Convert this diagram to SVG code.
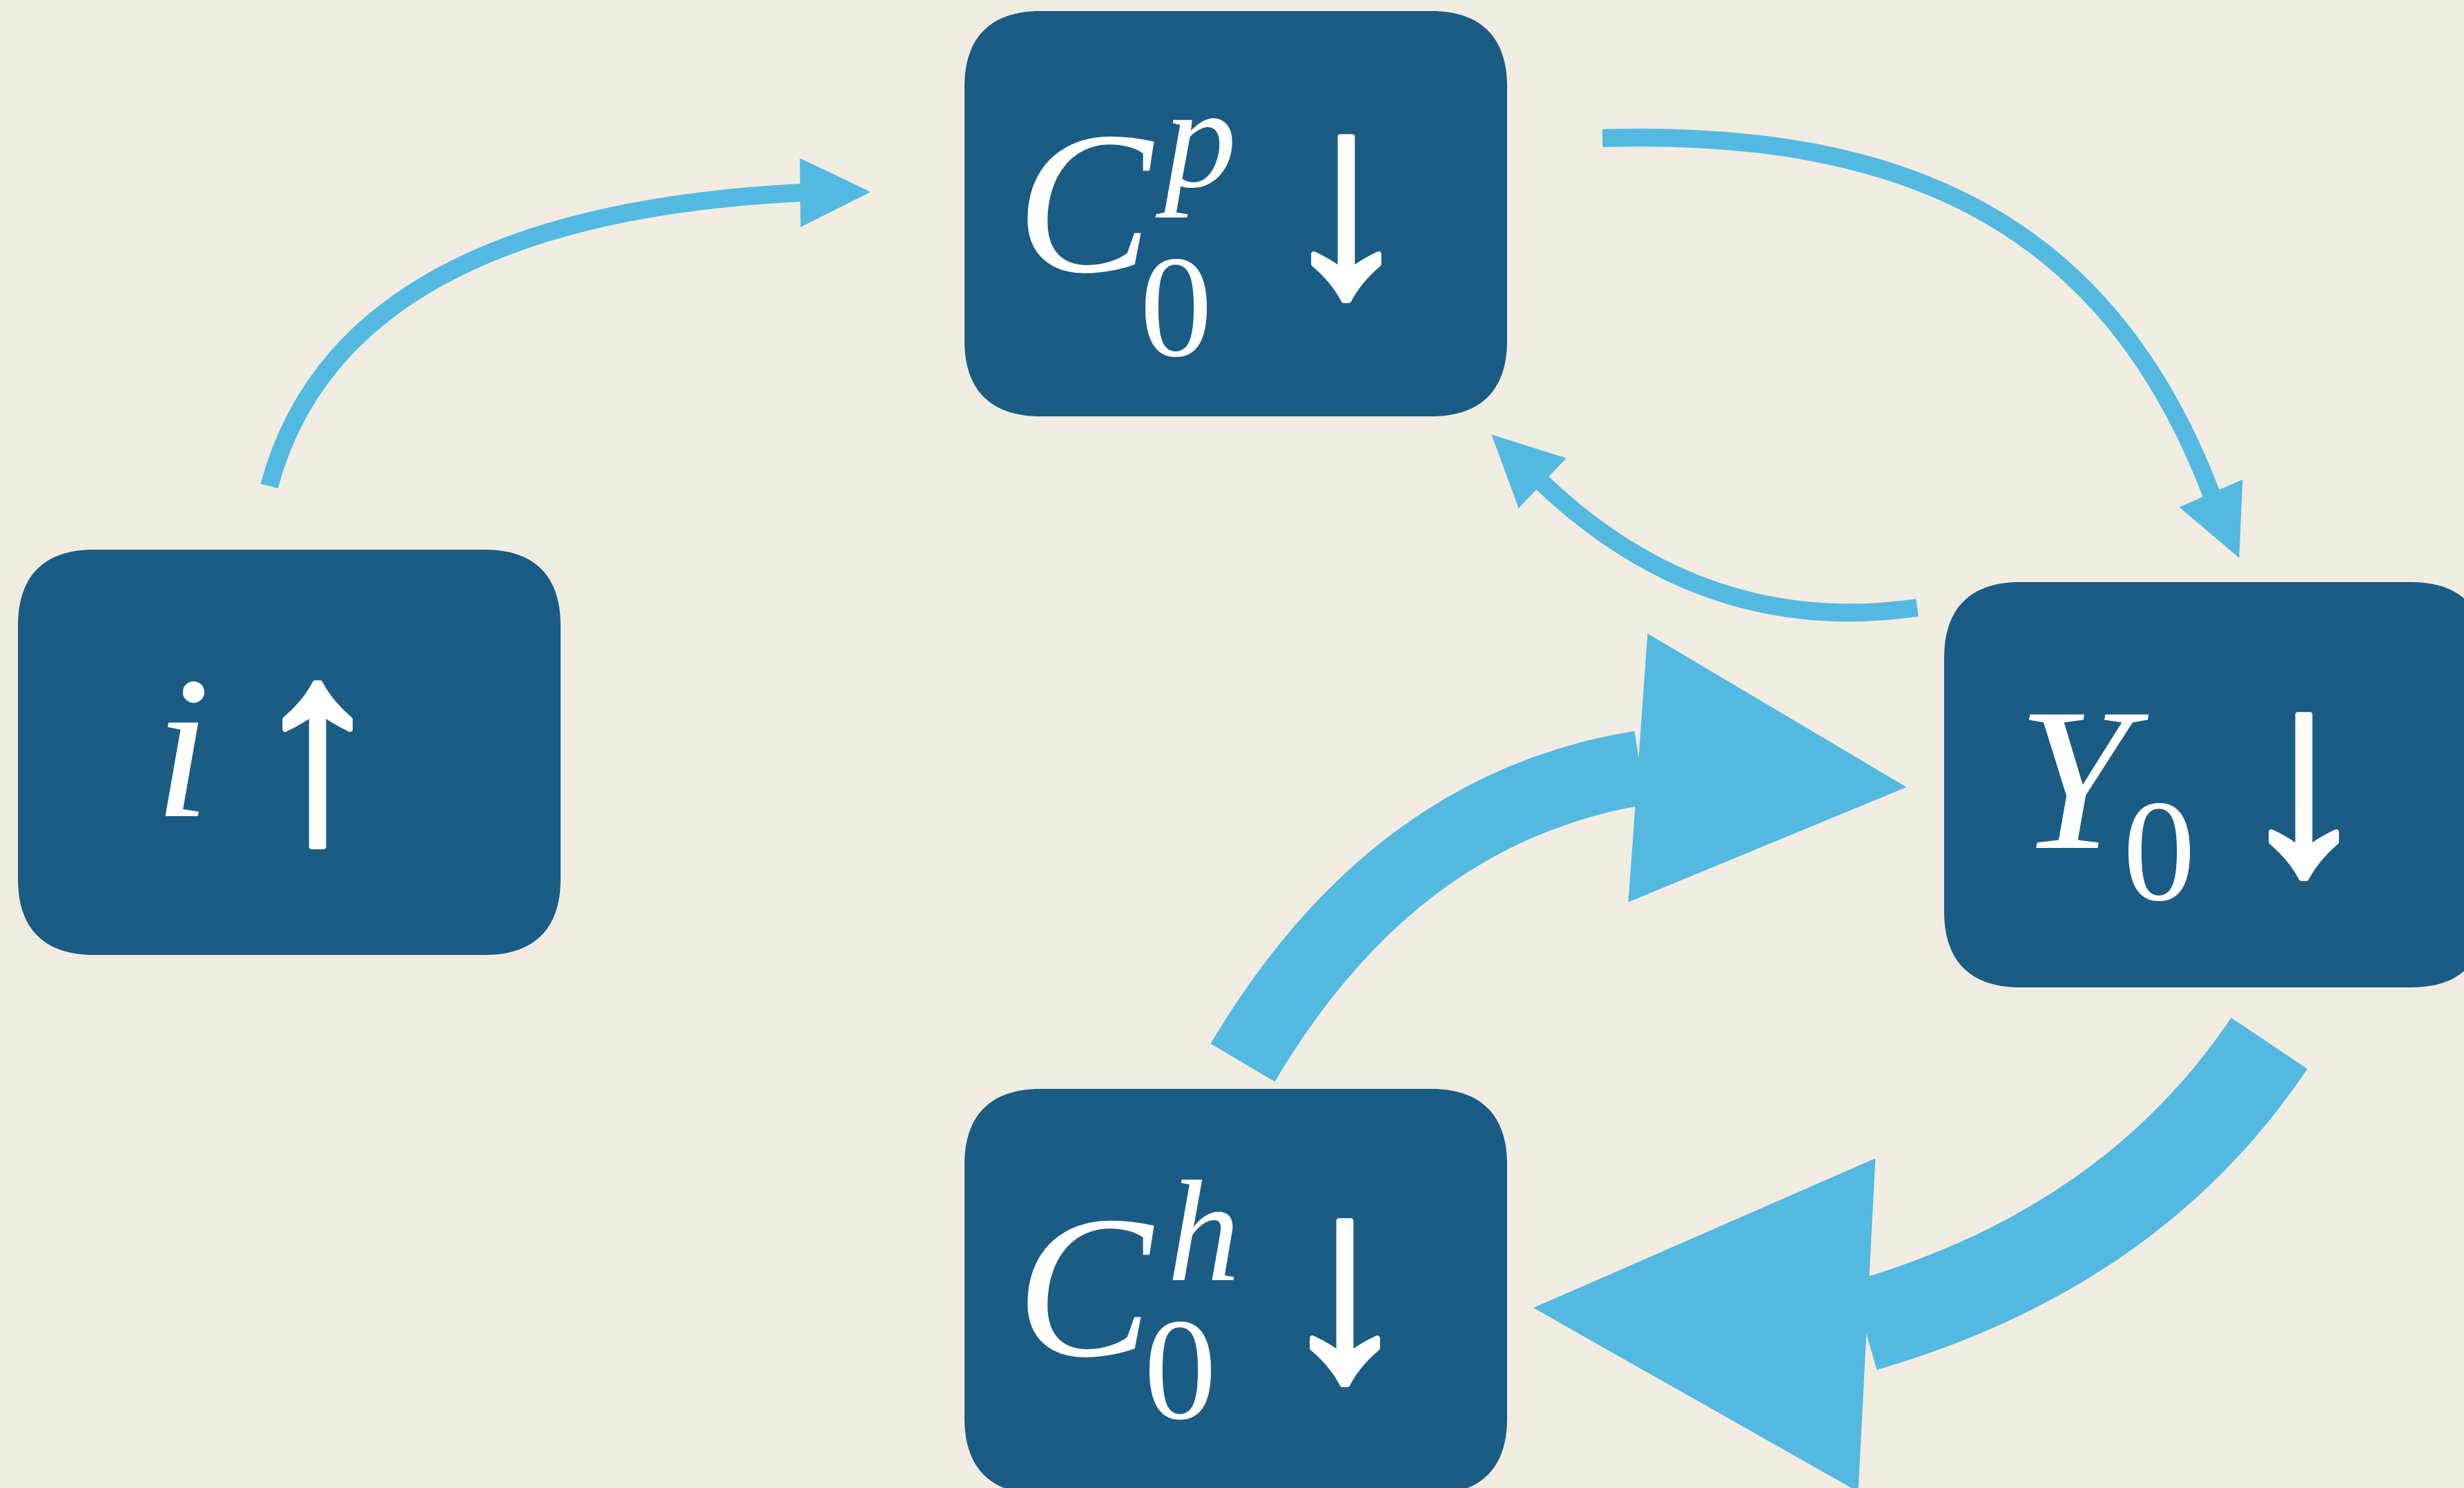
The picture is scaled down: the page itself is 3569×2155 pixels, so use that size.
<svg xmlns="http://www.w3.org/2000/svg" xmlns:xlink="http://www.w3.org/1999/xlink" width="3569" height="2155" viewBox="0 0 3569 2155">
<style>
.box{fill:#1b5c85;}
.lbl{fill:#ffffff;font-family:"Liberation Serif","Times New Roman",serif;font-style:italic;}
.num{fill:#ffffff;font-family:"Liberation Serif","Times New Roman",serif;font-style:normal;}
.arr{fill:#ffffff;stroke:#ffffff;stroke-width:8;stroke-linejoin:round;font-family:"Liberation Serif","DejaVu Serif",serif;font-style:normal;font-size:400px;}
.big{font-size:295px;}
.small{font-size:210px;}
.edge{fill:none;stroke:#54b9e0;stroke-linecap:butt;}
.thin{stroke-width:26;}
.head{fill:#54b9e0;}
</style>
<defs>
<path id="nodeShape" d="M110,0 H676 C748,0 786,38 786,110 V477 C786,549 748,587 676,587 H110 C38,587 0,549 0,477 V110 C0,38 38,0 110,0 Z"/>
<path id="headThin" d="M0,-50 L102,0 L0,50 Z"/>
<path id="headThick" d="M0,-195 L390,0 L0,195 Z"/>
</defs>
<rect x="0" y="0" width="3569" height="2155" fill="#f0ece2"/>
<g id="connectors">
<path class="edge thin" d="M390,704 C460,442.7 716.3,301 1161,279"/>
<use xlink:href="#headThin" class="head" transform="translate(1159,279) rotate(-0.6)"/>
<path class="edge thin" d="M2321,200 C2770,187 3056,330 3203.5,716.5"/>
<use xlink:href="#headThin" class="head" transform="translate(3202.5,714.5) rotate(66.4)"/>
<path class="edge thin" d="M2777,880 C2572.5,909.5 2391.5,849.4 2233,698.5"/>
<use xlink:href="#headThin" class="head" transform="translate(2234.2,699.7) rotate(-136.4)"/>
<path class="edge" stroke-width="108" d="M1800,1539 C1946,1293 2136.7,1150.7 2376,1112"/>
<use xlink:href="#headThick" class="head" transform="translate(2372.5,1112) rotate(4.1)"/>
<path class="edge" stroke-width="133" d="M3287,1511 C3153.8,1709.1 2959.5,1844.9 2700,1920"/>
<use xlink:href="#headThick" class="head" transform="translate(2704,1919) rotate(182.95) scale(1.24)"/>
</g>
<g id="node-i">
<use xlink:href="#nodeShape" class="box" x="26" y="796"/>
<text class="lbl big" x="264" y="1182" text-anchor="middle">i</text>
<text class="arr" x="460" y="1214" text-anchor="middle">↑</text>
</g>
<g id="node-Cp">
<use xlink:href="#nodeShape" class="box" x="1397" y="16"/>
<text class="lbl big" x="1472" y="393">C</text>
<text class="lbl small" x="1686" y="270">p</text>
<text class="num small" x="1651" y="515">0</text>
<text class="arr" x="1950" y="423" text-anchor="middle">↓</text>
</g>
<g id="node-Y0">
<use xlink:href="#nodeShape" class="box" x="2816" y="843"/>
<text class="lbl big" x="2922" y="1228">Y</text>
<text class="num small" x="3075" y="1303">0</text>
<text class="arr" x="3337" y="1260" text-anchor="middle">↓</text>
</g>
<g id="node-Ch">
<use xlink:href="#nodeShape" class="box" x="1397" y="1577"/>
<text class="lbl big" x="1472" y="1963">C</text>
<text class="lbl small" x="1691" y="1854">h</text>
<text class="num small" x="1657" y="2054">0</text>
<text class="arr" x="1948" y="1993" text-anchor="middle">↓</text>
</g>
</svg>
